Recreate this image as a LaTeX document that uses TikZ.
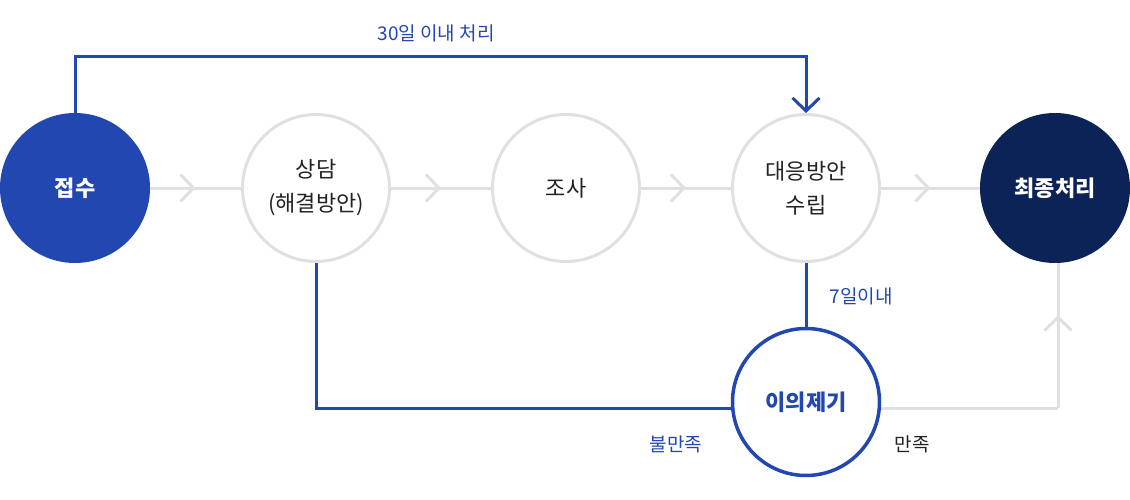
\documentclass[tikz,border=0pt]{standalone}
\usepackage{fontspec}
\setmainfont{Noto Sans CJK KR}
\usetikzlibrary{arrows.meta,decorations.markings,calc}
\definecolor{mblue}{HTML}{2347B0}
\definecolor{mnavy}{HTML}{0C2357}
\definecolor{mgray}{HTML}{E0E0E0}
\definecolor{mtext}{HTML}{222222}
\tikzset{
  stage/.style={circle, minimum size=147pt, inner sep=0pt, draw=mgray, line width=3pt, fill=white,
    text=mtext, font=\fontsize{22}{34}\selectfont, align=center},
  filled/.style={circle, minimum size=150pt, inner sep=0pt, draw=none, text=white,
    font=\fontsize{22}{32}\selectfont\bfseries, align=center},
  chev/.tip={Straight Barb[length=13pt, width=27pt, line width=3pt]},
  flow/.style={draw=mgray, line width=3pt},
  midarrow/.style={postaction={decorate}, decoration={markings, mark=at position 0.5 with {\arrow[mgray]{chev}}}},
  blueline/.style={draw=mblue, line width=3pt},
  lbl/.style={font=\fontsize{19}{22}\selectfont, inner sep=0pt},
}
\begin{document}
\begin{tikzpicture}[x=1pt, y=-1pt]
\useasboundingbox (0,0) rectangle (1130,500);
\node[filled, fill=mblue] (jeop) at (75,188) {접수};
\node[stage] (sang) at (316,188) {상담\\(해결방안)};
\node[stage] (josa) at (566,188) {조사};
\node[stage] (daeung) at (806,188) {대응방안\\수립};
\node[filled, fill=mnavy] (final) at (1055,188) {최종처리};
\node[stage, draw=mblue, line width=3.5pt, text=mblue, font=\fontsize{22}{32}\selectfont\bfseries] (ij) at (806,402) {이의제기};

\draw[flow, midarrow] (jeop) -- (sang);
\draw[flow, midarrow] (sang) -- (josa);
\draw[flow, midarrow] (josa) -- (daeung);
\draw[flow, midarrow] (daeung) -- (final);

\coordinate (tc) at (440,57);
\draw[blueline, -chev] (jeop.north) |- (tc) -| (daeung.north);
\draw[blueline] (daeung.south) -- (ij.north);
\draw[blueline] (sang.south) |- ([yshift=-6pt]ij.west);

\coordinate (rc) at (1058,408);
\draw[flow] ([yshift=-6pt]ij.east) -- (rc);
\draw[flow, postaction={decorate}, decoration={markings, mark=at position 0.64 with {\arrow[mgray]{chev}}}] (rc) -- (rc |- final.south);

\node[lbl, text=mblue] (l30) at (436,33) {30일 이내 처리};
\node[lbl, text=mblue] (l7) at (861,296) {7일이내};
\node[lbl, text=mblue] (lbul) at (676,444) {불만족};
\node[lbl, text=mtext] (lman) at (912,444) {만족};
\end{tikzpicture}
\end{document}
